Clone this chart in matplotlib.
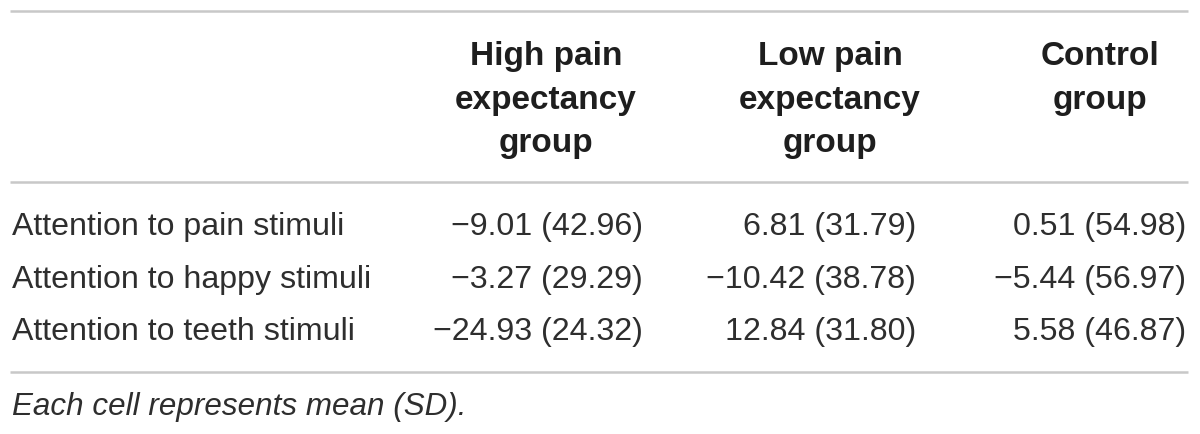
import matplotlib
matplotlib.use('Agg')
import matplotlib.pyplot as plt

# table content
col_headers = [['High pain', 'expectancy', 'group'],
               ['Low pain', 'expectancy', 'group'],
               ['Control', 'group']]
row_labels = ['Attention to pain stimuli',
              'Attention to happy stimuli',
              'Attention to teeth stimuli']
means = [[-9.01, 6.81, 0.51],
         [-3.27, -10.42, -5.44],
         [-24.93, 12.84, 5.58]]
sds = [[42.96, 31.79, 54.98],
       [29.29, 38.78, 56.97],
       [24.32, 31.80, 46.87]]
footnote = 'Each cell represents mean (SD).'

W, H = 1200, 435
fig = plt.figure(figsize=(W / 100, H / 100), dpi=100)
ax = fig.add_axes([0, 0, 1, 1])
ax.set_xlim(0, W)
ax.set_ylim(H, 0)
ax.axis('off')

txt = '#2e2e2e'
rule = '#c8c8c8'
font = 'Liberation Sans'
fs = 23.1

# horizontal rules
for y in [12, 183, 372.5]:
    ax.plot([10, 1188], [y, y], color=rule, lw=1.8, solid_capstyle='butt')

# headers, one line at a time, top aligned (baselines)
head_cx = [546, 830, 1100]
head_y = [65, 108.5, 152]
for cx, lines in zip(head_cx, col_headers):
    for k, line in enumerate(lines):
        ax.text(cx, head_y[k], line, ha='center', va='baseline', fontsize=24,
                fontweight='bold', family=font, color='#1e1e1e')

# body
col_right = [643, 916, 1186]
row_y = [235.5, 288.5, 340.5]
for i, lab in enumerate(row_labels):
    ax.text(12, row_y[i], lab, ha='left', va='baseline', fontsize=fs,
            family=font, color=txt)
    for j in range(3):
        s = f'{means[i][j]:.2f} ({sds[i][j]:.2f})'.replace('-', '\u2212')
        ax.text(col_right[j], row_y[i], s, ha='right', va='baseline', fontsize=fs,
                family=font, color=txt)

ax.text(12, 415, footnote, ha='left', va='baseline', fontsize=22.6, style='italic',
        family=font, color=txt)

fig.savefig('out.png', dpi=100)
